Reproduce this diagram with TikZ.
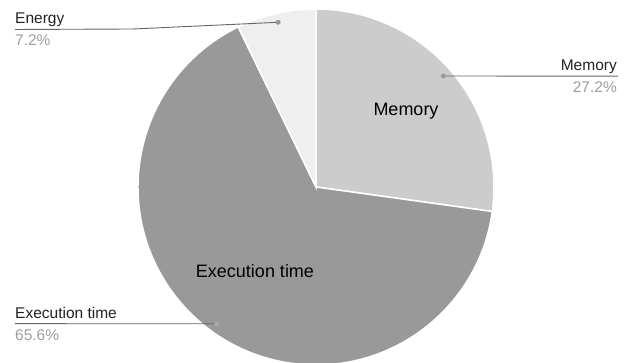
\documentclass[tikz,border=0pt]{standalone}
\usepackage{fontspec}
\setmainfont{Liberation Sans}
\usetikzlibrary{calc}
\definecolor{memcol}{HTML}{CCCCCC}
\definecolor{execol}{HTML}{999999}
\definecolor{enecol}{HTML}{EFEFEF}
\definecolor{txtcol}{HTML}{222222}
\definecolor{pctcol}{HTML}{9E9E9E}
\definecolor{leadcol}{HTML}{666666}
\definecolor{dotcol}{HTML}{999999}
\definecolor{dotcoltwo}{HTML}{A8A8A8}
\begin{document}
\begin{tikzpicture}[x=1pt,y=1pt,
  slice/.style={draw=white,line width=1.5pt,line join=miter},
  outlbl/.style={inner sep=0pt,text=txtcol,font=\fontsize{15.5}{18}\selectfont},
  pctlbl/.style={inner sep=0pt,text=pctcol,font=\fontsize{15.5}{18}\selectfont},
  inlbl/.style={inner sep=0pt,text=black,font=\fontsize{18}{21}\selectfont},
  leader/.style={draw=leadcol,line width=0.9pt},
  leaddot/.style={circle,fill=dotcol,inner sep=0pt,minimum size=5pt}]
\useasboundingbox (0,0) rectangle (630,363);
\clip (0,0) rectangle (630,363);
\fill[white] (0,0) rectangle (630,363);
\coordinate (c) at (316,176);
% slices
\filldraw[slice,fill=memcol] (c) -- ++(90:178) arc[start angle=90,end angle=-7.92,radius=178] -- cycle;
\filldraw[slice,fill=execol] (c) -- ++(-7.92:178) arc[start angle=-7.92,end angle=-244.08,radius=178] -- cycle;
\filldraw[slice,fill=enecol] (c) -- ++(115.92:178) arc[start angle=115.92,end angle=90,radius=178] -- cycle;
% inner labels
\node[inlbl,anchor=base] (memin) at (406,247) {Memory};
\node[inlbl,anchor=base] (exein) at (255,85) {Execution time};
% outer labels
\node[outlbl,anchor=base west] (enelbl) at (15,339) {Energy};
\node[pctlbl,anchor=base west] (enepct) at (15,317) {7.2\%};
\node[outlbl,anchor=base east] (memlbl) at (617,292) {Memory};
\node[pctlbl,anchor=base east] (mempct) at (617,270) {27.2\%};
\node[outlbl,anchor=base west] (exelbl) at (15,44) {Execution time};
\node[pctlbl,anchor=base west] (exepct) at (15,22) {65.6\%};
% dot anchors
\coordinate (enedotp) at ($(c)+(102.96:169)$);
\coordinate (memdotp) at ($(c)+(41.04:169)$);
\coordinate (exedotp) at ($(c)+(234:169)$);
% leader lines
\coordinate (eneL) at (15,333.5);
\coordinate (eneB) at (133,334);
\coordinate (memR) at (618,286.9);
\coordinate (exeL) at (15,39.3);
\draw[leader] (eneL) -- (eneB) -- (enedotp);
\draw[leader] (memR) -- (memdotp);
\draw[leader] (exeL) -- (exedotp);
% dots
\node[leaddot] (enedot) at (enedotp) {};
\node[leaddot] (memdot) at (memdotp) {};
\node[leaddot,fill=dotcoltwo] (exedot) at (exedotp) {};
\end{tikzpicture}
\end{document}
